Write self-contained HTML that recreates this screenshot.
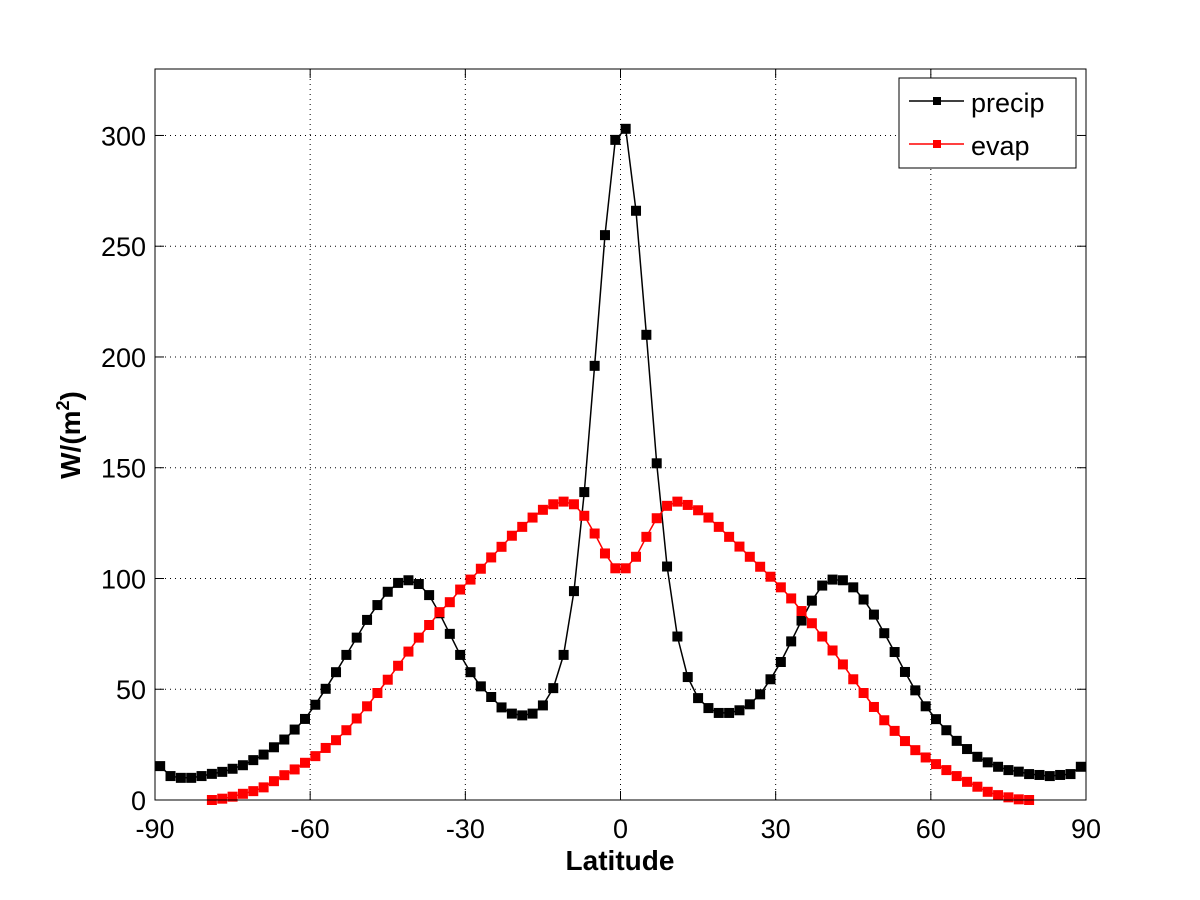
<!DOCTYPE html>
<html><head><meta charset="utf-8"><style>
html,body{margin:0;padding:0;background:#fff;}
svg{display:block;font-family:"Liberation Sans",Arial,sans-serif;}
</style></head><body>
<svg id="chart" width="1200" height="900" viewBox="0 0 1200 900" xmlns="http://www.w3.org/2000/svg">
<rect width="1200" height="900" fill="#fff"/>
<g id="grid"></g>
<g id="series"></g>
<rect x="155" y="69" width="931" height="731" fill="none" stroke="#000" stroke-width="1"/>
<g id="ticks"></g>
<text x="620" y="870" font-size="28" font-weight="bold" text-anchor="middle">Latitude</text>
<text transform="translate(80,435) rotate(-90)" font-size="28" font-weight="bold" text-anchor="middle">W/(m<tspan dy="-11" font-size="18">2</tspan><tspan dy="11">)</tspan></text>
<g>
<rect x="899" y="78" width="177" height="90" fill="#fff" stroke="#000" stroke-width="1"/>
<g>
<line x1="909" y1="101" x2="964" y2="101" stroke="#000" stroke-width="1.5"/>
<rect x="933" y="97" width="8" height="8" fill="#000"/>
<text x="971" y="112" font-size="27">precip</text>
</g>
<g>
<line x1="909" y1="144" x2="964" y2="144" stroke="#f00" stroke-width="1.5"/>
<rect x="933" y="140" width="8" height="8" fill="#f00"/>
<text x="971" y="155" font-size="27">evap</text>
</g>
</g>
</svg>
<script>
const xTicks = [-90,-60,-30,0,30,60,90];
const yTicks = [0,50,100,150,200,250,300];
const precipLats = [];
for (let l=-89; l<=89; l+=2) precipLats.push(l);
const precipValues = [15.3,10.8,10,10,10.8,11.8,12.7,14.1,15.7,18,20.5,23.8,27.3,31.8,36.6,43,50.2,57.7,65.5,73.3,81.3,88,94,98,99.2,97.5,92.5,84.3,75,65.5,57.7,51.3,46.5,41.8,39,38.2,39,42.7,50.5,65.5,94.3,
139,196,255,298,303,266,210,152,105.4,
73.8,55.5,46,41.5,39.3,39.3,40.5,43.2,47.7,54.5,62.3,71.6,81,90,96.8,99.5,99.2,96,90.5,83.7,75.3,66.8,57.8,49.5,42.3,36.5,31.5,26.7,23,19.5,17,15,13.5,12.8,11.7,11.3,10.8,11.3,11.7,15];
const evapLats = [];
for (let l=-79; l<=79; l+=2) evapLats.push(l);
const evapValues = [0,0.6,1.5,2.8,4,5.7,8.5,11.2,13.8,16.8,19.8,23.5,27,31.5,36.8,42.3,48.3,54.3,60.6,67,73.3,79,
84.8,89.3,95,99.5,104.4,109.5,114.3,119.3,123.3,127.5,131,133.5,134.7,133.5,128.3,120.3,111.3,104.6,
104.6,109.8,118.8,127.2,132.8,134.7,133.2,130.8,127.5,123.3,118.8,114.4,109.8,105.3,100.8,96,91,85.3,
79.8,73.8,67.5,61.2,54.5,48.3,42,36,31.2,26.6,22.5,19.2,16.2,13.5,10.8,8.2,6,3.7,2.2,1.2,0.3,0];
const X0=155,X1=1086,Y0=800,Y1=69;
const xs = v => X0 + (v+90)/180*(X1-X0);
const ys = v => Y0 - v/330*(Y0-Y1);
const NS="http://www.w3.org/2000/svg";
function mk(tag, attrs, parent){const e=document.createElementNS(NS,tag);for(const k in attrs)e.setAttribute(k,attrs[k]);parent.appendChild(e);return e;}
const grid=document.getElementById('grid'), ticks=document.getElementById('ticks'), series=document.getElementById('series');
xTicks.forEach(t=>{
  const x=xs(t);
  if(t>-90&&t<90){const g=mk('line',{x1:x,y1:Y1,x2:x,y2:Y0,stroke:'#000','stroke-width':1,'stroke-dasharray':'1,4'},grid);
  
  }
  const a=mk('line',{x1:x,y1:Y0,x2:x,y2:Y0-9,stroke:'#000'},ticks);
  
  
  const b=mk('line',{x1:x,y1:Y1,x2:x,y2:Y1+9,stroke:'#000'},ticks);
  
  
  const tx=mk('text',{x:x,y:838,'font-size':27,'text-anchor':'middle'},ticks);
  tx.textContent=t;
  
  
});
yTicks.forEach(t=>{
  const y=ys(t);
  if(t>0){const g=mk('line',{x1:X0,y1:y,x2:X1,y2:y,stroke:'#000','stroke-width':1,'stroke-dasharray':'1,4'},grid);
  
  }
  const a=mk('line',{x1:X0,y1:y,x2:X0+9,y2:y,stroke:'#000'},ticks);
  
  
  const b=mk('line',{x1:X1,y1:y,x2:X1-9,y2:y,stroke:'#000'},ticks);
  
  
  const tx=mk('text',{x:146,y:y+10,'font-size':27,'text-anchor':'end'},ticks);
  tx.textContent=t;
  
  
});
function drawSeries(lats, vals, color, name){
  const g=mk('g',{},series);
  
  
  const pts=lats.map((l,i)=>xs(l).toFixed(1)+','+ys(vals[i]).toFixed(1)).join(' ');
  const pl=mk('polyline',{points:pts,fill:'none',stroke:color,'stroke-width':1.5},g);
  
  
  lats.forEach((l,i)=>{
    const r=mk('rect',{x:xs(l)-5,y:ys(vals[i])-5,width:10,height:10,fill:color},g);
    
    
  });
}
drawSeries(precipLats, precipValues, '#000', 'precip');
drawSeries(evapLats, evapValues, '#f00', 'evap');
</script>
</body></html>
